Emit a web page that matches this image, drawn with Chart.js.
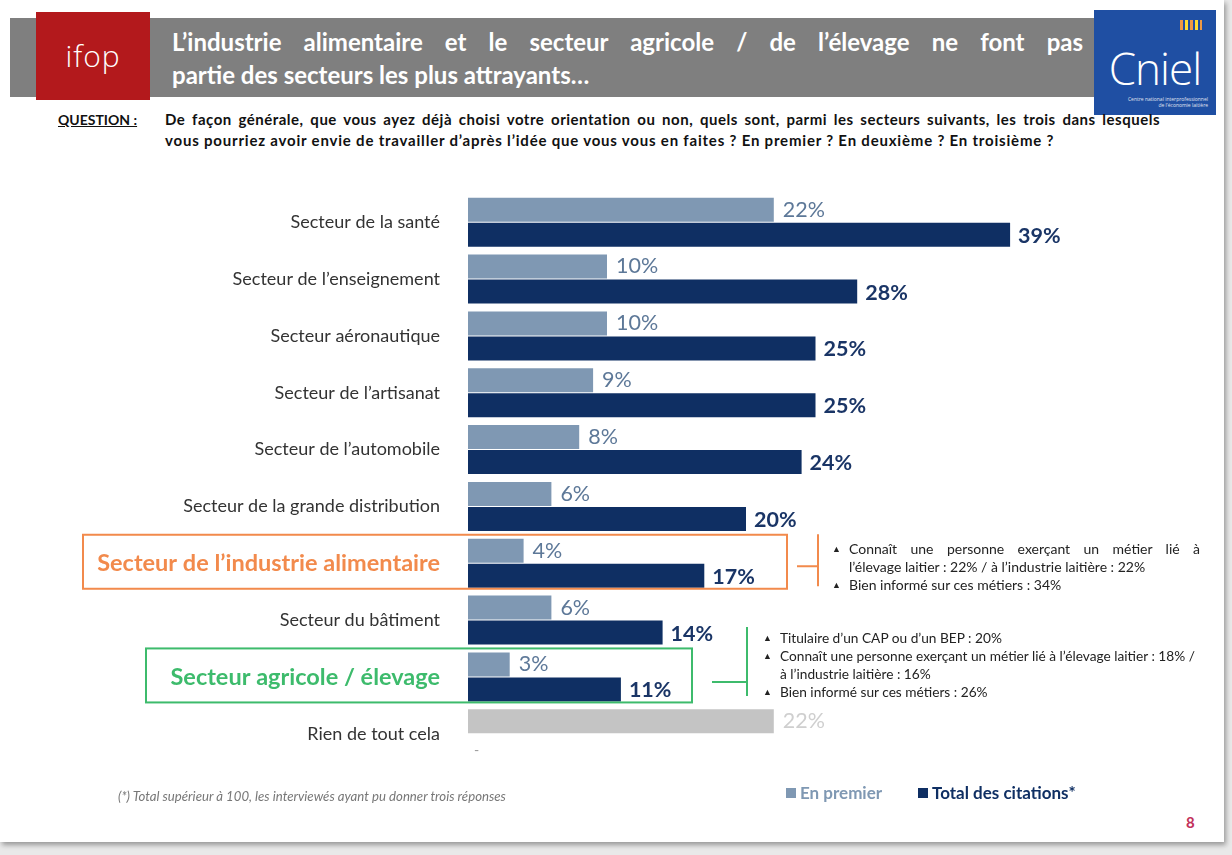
<!DOCTYPE html>
<html lang="fr">
<head>
<meta charset="utf-8">
<title>Secteurs les plus attrayants</title>
<script src="https://cdn.jsdelivr.net/npm/chart.js@4.4.1/dist/chart.umd.min.js"></script>
<style>
  html, body { margin: 0; padding: 0; }
  body { width: 1232px; height: 855px; background: #e9e9e9; font-family: Lato, "Open Sans", sans-serif; position: relative; overflow: hidden; }
  #slide { position: absolute; left: 0; top: 0; width: 1224px; height: 842px; background: #fff; box-shadow: 2px 3px 5px rgba(0,0,0,0.35); }
  #bandeau { position: absolute; left: 10px; top: 18px; width: 1090px; height: 79px; background: #7f7f7f; }
  #ifop { position: absolute; left: 36px; top: 12px; width: 114px; height: 88px; background: #b3191c; color: #fff; font: 300 30px "Open Sans", sans-serif; text-align: center; line-height: 88px; letter-spacing: 1px; }
  #cniel { position: absolute; left: 1094px; top: 10px; width: 122px; height: 105px; background: #1f4fa3; color: #fff; text-align: center; }
  #cniel .nom { position: absolute; left: 0; right: 0; top: 36px; font: 300 44px "Open Sans", sans-serif; line-height: 44px; letter-spacing: -1px; }
  #cniel .sous { position: absolute; left: 8px; right: 8px; top: 86px; font: 5px "Open Sans", sans-serif; line-height: 6px; text-align: right; opacity: 0.85; }
  #cniel .barres { position: absolute; right: 14px; top: 10px; width: 22px; height: 10px; background: repeating-linear-gradient(90deg, #e94 0 3px, transparent 3px 5px, #fd3 5px 8px, transparent 8px 10px); }
  .titre { position: absolute; left: 172px; width: 911px; color: #fff; font-weight: 700; font-size: 24px; line-height: 30px; white-space: nowrap; }
  #t1 { top: 27px; text-align: justify; text-align-last: justify; white-space: normal; height: 30px; overflow: hidden; }
  #t2 { top: 60px; }
  #qlabel { position: absolute; left: 58px; top: 111px; font-weight: 700; font-size: 14px; text-decoration: underline; color: #111; }
  .q { position: absolute; left: 165px; font-weight: 700; font-size: 15px; letter-spacing: 0.8px; color: #111; line-height: 18px; }
  #q1 { top: 110px; width: 995px; text-align: justify; text-align-last: justify; height: 20px; overflow: hidden; letter-spacing: 0.5px; }
  #q2 { top: 131px; white-space: nowrap; }
  #chartBox { position: absolute; left: 0; top: 163px; width: 1232px; height: 630px; }
  .note { position: absolute; color: #222; line-height: 18px; }
  .note div { position: relative; padding-left: 17px; white-space: nowrap; }
  .note div.tri::before { content: "\25B2"; position: absolute; left: 0; top: 0; font-size: 9px; }
  #noteOrange { left: 832px; top: 540px; width: 368px; font-size: 14px; }
  #noteOrange .j { text-align: justify; text-align-last: justify; white-space: normal; }
  #noteVert { left: 763px; top: 629px; width: 450px; font-size: 13.7px; }
  #footnote { position: absolute; left: 118px; top: 788px; font-style: italic; font-size: 13.2px; color: #777; }
  #legende { position: absolute; left: 0; top: 782px; font-weight: 700; font-size: 17px; white-space: nowrap; }
  #legende span { position: absolute; top: 0; }
  #legende i { display: inline-block; width: 10px; height: 10px; margin-right: 4px; vertical-align: 1px; }
  #page { position: absolute; left: 1186px; top: 813px; color: #c2305a; font-weight: 700; font-size: 15px; }
</style>
</head>
<body>
<div id="slide">
  <div id="bandeau"></div>
  <div id="ifop">ifop</div>
  <div class="titre" id="t1">L’industrie alimentaire et le secteur agricole / de l’élevage ne font pas</div>
  <div class="titre" id="t2">partie des secteurs les plus attrayants…</div>
  <div id="cniel"><div class="barres"></div><div class="nom">Cniel</div><div class="sous">Centre national interprofessionnel<br>de l’économie laitière</div></div>
  <div id="qlabel">QUESTION :</div>
  <div class="q" id="q1">De façon générale, que vous ayez déjà choisi votre orientation ou non, quels sont, parmi les secteurs suivants, les trois dans lesquels</div>
  <div class="q" id="q2">vous pourriez avoir envie de travailler d’après l’idée que vous vous en faites ? En premier ? En deuxième ? En troisième ?</div>

  <div id="chartBox"><canvas id="graphique"></canvas></div>

  <div class="note" id="noteOrange">
    <div class="tri j">Connaît une personne exerçant un métier lié à</div>
    <div>l’élevage laitier : 22% / à l’industrie laitière : 22%</div>
    <div class="tri">Bien informé sur ces métiers : 34%</div>
  </div>
  <div class="note" id="noteVert">
    <div class="tri">Titulaire d’un CAP ou d’un BEP : 20%</div>
    <div class="tri">Connaît une personne exerçant un métier lié à l’élevage laitier : 18% /</div>
    <div>à l’industrie laitière : 16%</div>
    <div class="tri">Bien informé sur ces métiers : 26%</div>
  </div>

  <div id="footnote">(*) Total supérieur à 100, les interviewés ayant pu donner trois réponses</div>
  <div id="legende">
    <span style="left:786px; color:#7f98b3"><i style="background:#7f98b3"></i>En premier</span>
    <span style="left:918px; color:#0f2f63"><i style="background:#0f2f63"></i>Total des citations*</span>
  </div>
  <div id="page">8</div>
</div>

<script>
const secteurs = [
  "Secteur de la santé",
  "Secteur de l’enseignement",
  "Secteur aéronautique",
  "Secteur de l’artisanat",
  "Secteur de l’automobile",
  "Secteur de la grande distribution",
  "Secteur de l’industrie alimentaire",
  "Secteur du bâtiment",
  "Secteur agricole / élevage",
  "Rien de tout cela"
];
const enPremier = [22, 10, 10, 9, 8, 6, 4, 6, 3, 22];
const totalCitations = [39, 28, 25, 25, 24, 20, 17, 14, 11, null];

// lignes mises en avant : index -> couleur
const misesEnAvant = { 6: "#f28a4c", 8: "#3dbb6c" };

const CLAIR = "#7f98b3";
const FONCE = "#0f2f63";
const GRIS = "#c4c4c4";

const etiquettes = {
  id: "etiquettes",
  afterDatasetsDraw(chart) {
    const ctx = chart.ctx;
    const x = chart.scales.x;
    chart.data.datasets.forEach((ds, di) => {
      const meta = chart.getDatasetMeta(di);
      meta.data.forEach((bar, i) => {
        const v = ds.data[i];
        ctx.save();
        ctx.textBaseline = "middle";
        ctx.textAlign = "left";
        if (v === null) {
          ctx.fillStyle = "#999";
          ctx.font = "14px Lato";
          ctx.fillText("-", x.getPixelForValue(0) + 6, bar.y + 4);
        } else if (di === 0) {
          ctx.fillStyle = i === 9 ? "#cfcfcf" : "#5d7898";
          ctx.font = "21.5px Lato";
          ctx.fillText(v + "%", x.getPixelForValue(v) + 9, bar.y);
        } else {
          ctx.fillStyle = "#1a3566";
          ctx.font = "bold 21.5px Lato";
          ctx.fillText(v + "%", x.getPixelForValue(v) + 8, bar.y + 1);
        }
        ctx.restore();
      });
    });
  }
};

const encadres = {
  id: "encadres",
  afterDraw(chart) {
    const ctx = chart.ctx;
    const y = chart.scales.y;
    const boites = [
      { i: 6, x0: 83, x1: 787, h0: 797, v: 818, vh: [-27.5, 24.5], dh: 4.5 },
      { i: 8, x0: 146, x1: 692, h0: 712, v: 747, vh: [-48.5, 20.5], dh: 6.5 }
    ];
    boites.forEach(b => {
      const c = y.getPixelForValue(b.i) - 1.5;
      ctx.save();
      ctx.strokeStyle = misesEnAvant[b.i];
      ctx.lineWidth = 2;
      ctx.strokeRect(b.x0, c - 27, b.x1 - b.x0, 54);
      ctx.beginPath();
      ctx.moveTo(b.h0, c + b.dh);
      ctx.lineTo(b.v, c + b.dh);
      ctx.moveTo(b.v, c + b.vh[0]);
      ctx.lineTo(b.v, c + b.vh[1]);
      ctx.stroke();
      ctx.restore();
    });
  }
};

new Chart(document.getElementById("graphique"), {
  type: "bar",
  data: {
    labels: secteurs,
    datasets: [
      {
        label: "En premier",
        data: enPremier,
        backgroundColor: enPremier.map((v, i) => i === 9 ? GRIS : CLAIR),
        barPercentage: 0.96,
        categoryPercentage: 0.88
      },
      {
        label: "Total des citations*",
        data: totalCitations,
        backgroundColor: FONCE,
        barPercentage: 0.96,
        categoryPercentage: 0.88
      }
    ]
  },
  options: {
    indexAxis: "y",
    responsive: true,
    maintainAspectRatio: false,
    animation: false,
    layout: { padding: { top: 8, bottom: 7, right: 69, left: 0 } },
    plugins: { legend: { display: false }, tooltip: { enabled: false } },
    scales: {
      x: { display: false, min: 0, max: 50 },
      y: {
        grid: { display: false },
        border: { display: false },
        afterFit(scale) { scale.width = 468; },
        ticks: {
          padding: 20,
          color: ctx => misesEnAvant[ctx.index] || "#333",
          font: ctx => misesEnAvant[ctx.index]
            ? { family: "Lato", size: 23.5, weight: "bold" }
            : { family: "Lato", size: 18 }
        }
      }
    }
  },
  plugins: [etiquettes, encadres]
});
</script>
</body>
</html>
